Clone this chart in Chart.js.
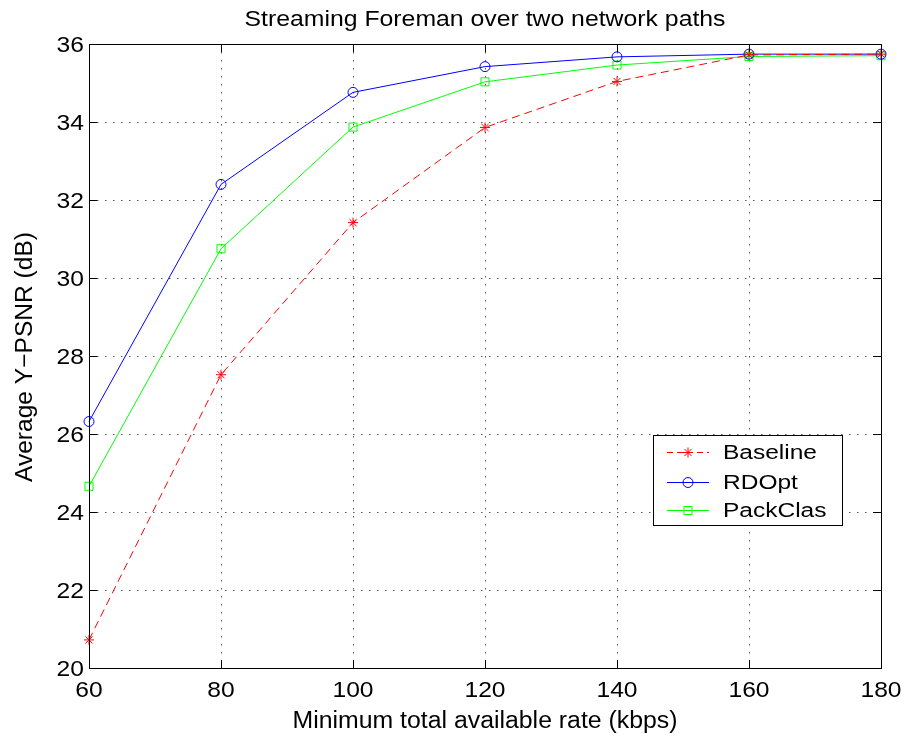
<!DOCTYPE html>
<html>
<head>
<meta charset="utf-8">
<script src="https://cdn.jsdelivr.net/npm/chart.js@4"></script>
<style>
  body { margin: 0; background: #fff; }
  #wrap { width: 904px; height: 736px; }
</style>
</head>
<body>
<div id="wrap"><canvas id="grafico" width="904" height="736"></canvas></div>
<script>
// DATOS
const tasas = [60, 80, 100, 120, 140, 160, 180];
const baseline = [20.72, 27.52, 31.42, 33.86, 35.04, 35.72, 35.74];
const rdopt = [26.32, 32.40, 34.76, 35.42, 35.67, 35.74, 35.74];
const packclas = [24.66, 30.75, 33.87, 35.03, 35.46, 35.68, 35.70];
const ticksY = [20, 22, 24, 26, 28, 30, 32, 34, 36];

const titulo = "Streaming Foreman over two network paths";
const tituloX = "Minimum total available rate (kbps)";
const tituloY = "Average Y\u2212PSNR (dB)";

const fuente = "'Liberation Sans', Arial, sans-serif";

function puntos(valores) {
  return tasas.map((t, i) => ({ x: t, y: valores[i] }));
}

const series = [
  { label: "Baseline", data: baseline, color: "#ff0000", estilo: "star", radio: 5, dash: [8, 5] },
  { label: "RDOpt", data: rdopt, color: "#0000ff", estilo: "circle", radio: 5, dash: [] },
  { label: "PackClas", data: packclas, color: "#00ff00", estilo: "rect", radio: 5.7, dash: [] }
];

// texto estirado en horizontal (la fuente original es mas ancha)
function texto(ctx, str, x, y, size, estiro, align) {
  ctx.save();
  ctx.font = size + "px " + fuente;
  ctx.textBaseline = "alphabetic";
  ctx.textAlign = "left";
  const w = ctx.measureText(str).width * estiro;
  let x0 = x;
  if (align === "center") x0 = x - w / 2;
  if (align === "right") x0 = x - w;
  ctx.translate(x0, y);
  ctx.scale(estiro, 1);
  ctx.fillText(str, 0, 0);
  ctx.restore();
}

function estiroPara(ctx, str, size, ancho) {
  ctx.save();
  ctx.font = size + "px " + fuente;
  const w = ctx.measureText(str).width;
  ctx.restore();
  return ancho / w;
}

// MARCO, TICKS INTERNOS, TEXTOS Y LEYENDA
const marcoPlugin = {
  id: "marco",
  afterDraw(chart) {
    const ctx = chart.ctx;
    const a = chart.chartArea;
    const sx = chart.scales.x;
    const sy = chart.scales.y;
    ctx.save();
    ctx.strokeStyle = "#000";
    ctx.lineWidth = 1;
    ctx.setLineDash([]);
    ctx.strokeRect(a.left + 0.5, a.top + 0.5, a.right - a.left, a.bottom - a.top);

    const largo = 8;
    ctx.beginPath();
    tasas.forEach(t => {
      const px = Math.round(sx.getPixelForValue(t)) + 0.5;
      ctx.moveTo(px, a.bottom);
      ctx.lineTo(px, a.bottom - largo);
      ctx.moveTo(px, a.top);
      ctx.lineTo(px, a.top + largo);
    });
    ticksY.forEach(v => {
      const py = Math.round(sy.getPixelForValue(v)) + 0.5;
      ctx.moveTo(a.left, py);
      ctx.lineTo(a.left + largo, py);
      ctx.moveTo(a.right, py);
      ctx.lineTo(a.right - largo, py);
    });
    ctx.stroke();

    ctx.fillStyle = "#000";
    // etiquetas de ticks
    tasas.forEach(t => {
      texto(ctx, String(t), sx.getPixelForValue(t), 697, 22, 1.12, "center");
    });
    ticksY.forEach(v => {
      texto(ctx, String(v), 84, sy.getPixelForValue(v) + 8, 22, 1.12, "right");
    });

    // titulos
    const cx = (a.left + a.right) / 2;
    texto(ctx, titulo, cx, 26, 22, estiroPara(ctx, titulo, 22, 481), "center");
    texto(ctx, tituloX, cx, 728, 23, estiroPara(ctx, tituloX, 23, 385), "center");
    ctx.save();
    ctx.translate(32, 357);
    ctx.rotate(-Math.PI / 2);
    texto(ctx, tituloY, 0, 0, 23, estiroPara(ctx, tituloY, 23, 250), "center");
    ctx.restore();

    // leyenda
    const lx = 653, ly = 435, lw = 189, lh = 90;
    ctx.fillStyle = "#fff";
    ctx.fillRect(lx, ly, lw, lh);
    ctx.strokeStyle = "#000";
    ctx.strokeRect(lx + 0.5, ly + 0.5, lw, lh);
    const filas = [452, 482, 510];
    const estiroLeyenda = estiroPara(ctx, "Baseline", 20, 94);
    series.forEach((s, i) => {
      const y = filas[i];
      ctx.strokeStyle = s.color;
      ctx.lineWidth = 1;
      ctx.setLineDash(s.dash.length ? [6, 4] : []);
      ctx.beginPath();
      ctx.moveTo(667, y + 0.5);
      ctx.lineTo(709, y + 0.5);
      ctx.stroke();
      ctx.setLineDash([]);
      ctx.fillStyle = "rgba(0,0,0,0)";
      Chart.helpers.drawPoint(ctx, { pointStyle: s.estilo, radius: s.radio, borderWidth: 1 }, 688, y + 0.5);
      ctx.fillStyle = "#000";
      texto(ctx, s.label, 723, y + 7, 20, estiroLeyenda, "left");
    });
    ctx.restore();
  }
};

// GRÁFICO
const grafico = new Chart(document.getElementById("grafico"), {
  type: "line",
  data: {
    datasets: series.map(s => ({
      label: s.label,
      data: puntos(s.data),
      borderColor: s.color,
      backgroundColor: "rgba(0,0,0,0)",
      borderWidth: 1,
      borderDash: s.dash,
      pointStyle: s.estilo,
      pointRadius: s.radio,
      pointBorderColor: s.color,
      pointBackgroundColor: "rgba(0,0,0,0)",
      pointBorderWidth: 1,
      tension: 0,
      clip: false
    }))
  },
  options: {
    responsive: false,
    animation: false,
    layout: { padding: { top: 44, right: 23, left: 0, bottom: 0 } },
    plugins: {
      legend: { display: false },
      title: { display: false },
      tooltip: { enabled: false }
    },
    scales: {
      x: {
        type: "linear",
        min: 60,
        max: 180,
        afterFit(scale) { scale.height = 68; },
        ticks: { stepSize: 20, display: false },
        grid: {
          color: "rgba(0,0,0,0.65)",
          drawTicks: false,
          lineWidth: 1
        },
        border: { display: false, dash: [1.5, 6.5] }
      },
      y: {
        type: "linear",
        min: 20,
        max: 36,
        afterFit(scale) { scale.width = 89; },
        ticks: { stepSize: 2, display: false },
        grid: {
          color: "rgba(0,0,0,0.65)",
          drawTicks: false,
          lineWidth: 1
        },
        border: { display: false, dash: [1.5, 6.5] }
      }
    }
  },
  plugins: [marcoPlugin]
});
</script>
</body>
</html>
